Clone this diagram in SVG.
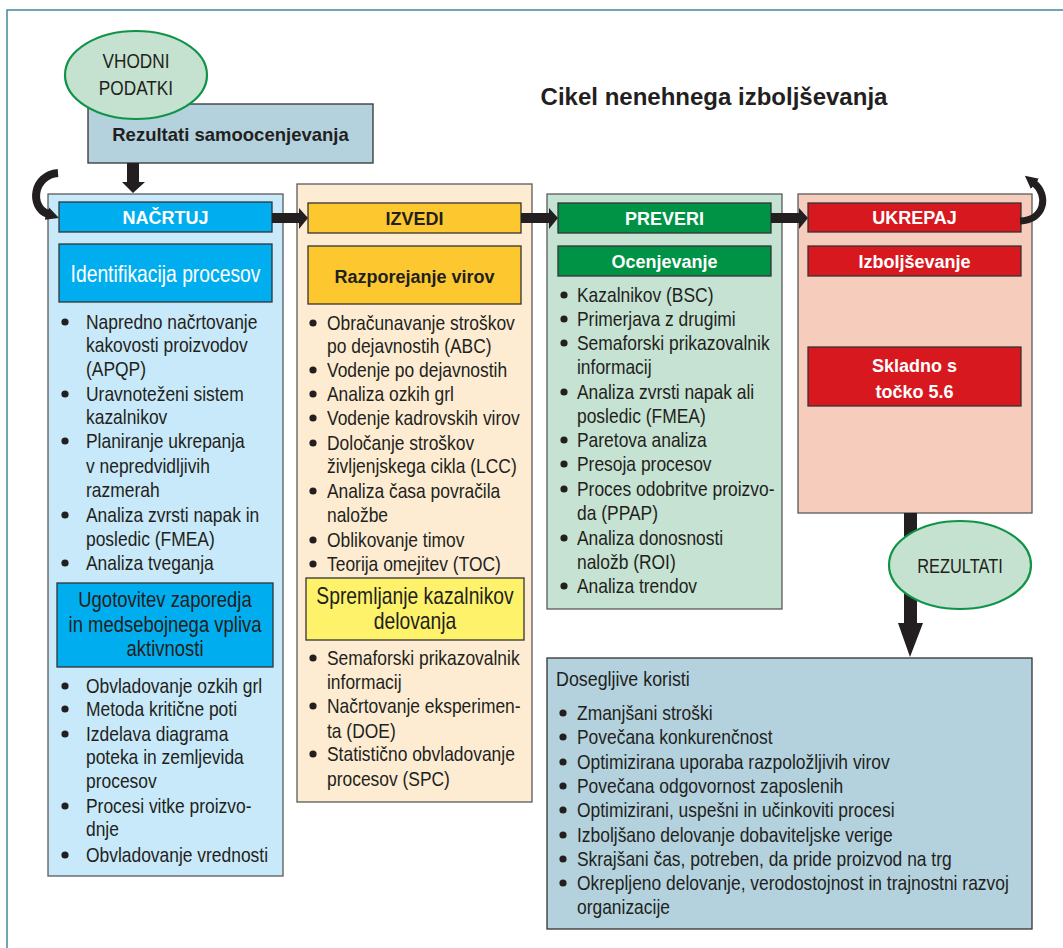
<svg xmlns="http://www.w3.org/2000/svg" width="1063" height="948" viewBox="0 0 1063 948">
<defs>
<style>
.t{font-family:"Liberation Sans",Arial,sans-serif;font-size:20.5px;fill:#231f20}
.b{font-family:"Liberation Sans",Arial,sans-serif;font-weight:bold;font-size:18px;fill:#231f20}
.w{fill:#ffffff}
.c{text-anchor:middle}
.panel{stroke:#5a5a5a;stroke-width:1.3}
.bar{stroke:#333333;stroke-width:1.3}
.dot{fill:#231f20}
.arr{fill:#231f20}
.ell{fill:#c5e2d0;stroke:#0f9447;stroke-width:2.2}
</style>
<marker id="ah" viewBox="0 0 10 10" refX="1" refY="5" markerWidth="13" markerHeight="18" markerUnits="userSpaceOnUse" orient="auto">
<path d="M0,0 L10,5 L0,10 z" fill="#231f20"/>
</marker>
</defs>
<rect width="1063" height="948" fill="#ffffff"/>
<rect x="7" y="10" width="1080" height="960" fill="none" stroke="#3d8a9a" stroke-width="1.5"/>
<text class="b c" x="714" y="105" style="font-size:24px">Cikel nenehnega izboljševanja</text>

<g id="rezultati-samoocenjevanja">
<rect x="88" y="104" width="285" height="59" fill="#b3d2de" class="bar"/>
<text class="b c" x="230.5" y="141" style="font-size:18.5px">Rezultati samoocenjevanja</text>
</g>

<g id="nacrtuj">
<rect x="48" y="194" width="235" height="682" fill="#c8e9f9" class="panel"/>
<rect x="59" y="202" width="213" height="30" fill="#00aeef" class="bar"/>
<text class="b c w" x="165.5" y="224">NAČRTUJ</text>
<rect x="59" y="244" width="213" height="58" fill="#00aeef" class="bar"/>
<g transform="translate(165.5,0) scale(0.84,1)">
<text class="t c w" x="0" y="282" style="font-size:23px">Identifikacija procesov</text>
</g>
<g class="dot">
<circle cx="65" cy="322" r="3.6"/><circle cx="65" cy="394" r="3.6"/><circle cx="65" cy="441" r="3.6"/><circle cx="65" cy="515" r="3.6"/><circle cx="65" cy="563" r="3.6"/>
<circle cx="65" cy="686" r="3.6"/><circle cx="65" cy="709" r="3.6"/><circle cx="65" cy="734" r="3.6"/><circle cx="65" cy="806" r="3.6"/><circle cx="65" cy="855" r="3.6"/>
</g>
<g transform="translate(86,0) scale(0.85,1)">
<text class="t" x="0" y="329">Napredno načrtovanje</text>
<text class="t" x="0" y="352">kakovosti proizvodov</text>
<text class="t" x="0" y="376">(APQP)</text>
<text class="t" x="0" y="401">Uravnoteženi sistem</text>
<text class="t" x="0" y="424">kazalnikov</text>
<text class="t" x="0" y="448">Planiranje ukrepanja</text>
<text class="t" x="0" y="473">v nepredvidljivih</text>
<text class="t" x="0" y="497">razmerah</text>
<text class="t" x="0" y="522">Analiza zvrsti napak in</text>
<text class="t" x="0" y="546">posledic (FMEA)</text>
<text class="t" x="0" y="570">Analiza tveganja</text>
<text class="t" x="0" y="693">Obvladovanje ozkih grl</text>
<text class="t" x="0" y="716">Metoda kritične poti</text>
<text class="t" x="0" y="741">Izdelava diagrama</text>
<text class="t" x="0" y="764">poteka in zemljevida</text>
<text class="t" x="0" y="788">procesov</text>
<text class="t" x="0" y="813">Procesi vitke proizvo-</text>
<text class="t" x="0" y="836">dnje</text>
<text class="t" x="0" y="862">Obvladovanje vrednosti</text>
</g>
<rect x="57" y="583" width="216" height="84" fill="#00aeef" class="bar"/>
<g transform="translate(165,0) scale(0.84,1)">
<text class="t c" x="0" y="607" style="font-size:22px">Ugotovitev zaporedja</text>
<text class="t c" x="0" y="632" style="font-size:22px">in medsebojnega vpliva</text>
<text class="t c" x="0" y="656" style="font-size:22px">aktivnosti</text>
</g>
</g>

<g id="izvedi">
<rect x="297" y="184" width="235" height="618" fill="#fdecd2" class="panel"/>
<rect x="308" y="203" width="213" height="30" fill="#fdc82f" class="bar"/>
<text class="b c" x="414.5" y="225">IZVEDI</text>
<rect x="308" y="246" width="213" height="58" fill="#fdc82f" class="bar"/>
<text class="b c" x="414.5" y="283">Razporejanje virov</text>
<g class="dot">
<circle cx="313" cy="323" r="3.6"/><circle cx="313" cy="370" r="3.6"/><circle cx="313" cy="394" r="3.6"/><circle cx="313" cy="418" r="3.6"/><circle cx="313" cy="443" r="3.6"/><circle cx="313" cy="491" r="3.6"/><circle cx="313" cy="540" r="3.6"/><circle cx="313" cy="564" r="3.6"/>
<circle cx="313" cy="658" r="3.6"/><circle cx="313" cy="706" r="3.6"/><circle cx="313" cy="754" r="3.6"/>
</g>
<g transform="translate(327,0) scale(0.85,1)">
<text class="t" x="0" y="330">Obračunavanje stroškov</text>
<text class="t" x="0" y="353">po dejavnostih (ABC)</text>
<text class="t" x="0" y="377">Vodenje po dejavnostih</text>
<text class="t" x="0" y="401">Analiza ozkih grl</text>
<text class="t" x="0" y="425">Vodenje kadrovskih virov</text>
<text class="t" x="0" y="450">Določanje stroškov</text>
<text class="t" x="0" y="473">življenjskega cikla (LCC)</text>
<text class="t" x="0" y="498">Analiza časa povračila</text>
<text class="t" x="0" y="522">naložbe</text>
<text class="t" x="0" y="547">Oblikovanje timov</text>
<text class="t" x="0" y="571">Teorija omejitev (TOC)</text>
<text class="t" x="0" y="665">Semaforski prikazovalnik</text>
<text class="t" x="0" y="689">informacij</text>
<text class="t" x="0" y="713">Načrtovanje eksperimen-</text>
<text class="t" x="0" y="738">ta (DOE)</text>
<text class="t" x="0" y="761">Statistično obvladovanje</text>
<text class="t" x="0" y="786">procesov (SPC)</text>
</g>
<rect x="306" y="578" width="218" height="62" fill="#fef26b" class="bar"/>
<g transform="translate(415,0) scale(0.84,1)">
<text class="t c" x="0" y="604" style="font-size:23px">Spremljanje kazalnikov</text>
<text class="t c" x="0" y="629" style="font-size:23px">delovanja</text>
</g>
</g>

<g id="preveri">
<rect x="547" y="194" width="235" height="415" fill="#c6e2d2" class="panel"/>
<rect x="558" y="203" width="213" height="30" fill="#009245" class="bar"/>
<text class="b c w" x="664.5" y="225">PREVERI</text>
<rect x="558" y="246" width="213" height="30" fill="#009245" class="bar"/>
<text class="b c w" x="664.5" y="268">Ocenjevanje</text>
<g class="dot">
<circle cx="564" cy="295" r="3.6"/><circle cx="564" cy="319" r="3.6"/><circle cx="564" cy="343" r="3.6"/><circle cx="564" cy="392" r="3.6"/><circle cx="564" cy="440" r="3.6"/><circle cx="564" cy="464" r="3.6"/><circle cx="564" cy="489" r="3.6"/><circle cx="564" cy="538" r="3.6"/><circle cx="564" cy="586" r="3.6"/>
</g>
<g transform="translate(577,0) scale(0.85,1)">
<text class="t" x="0" y="302">Kazalnikov (BSC)</text>
<text class="t" x="0" y="326">Primerjava z drugimi</text>
<text class="t" x="0" y="350">Semaforski prikazovalnik</text>
<text class="t" x="0" y="374">informacij</text>
<text class="t" x="0" y="399">Analiza zvrsti napak ali</text>
<text class="t" x="0" y="423">posledic (FMEA)</text>
<text class="t" x="0" y="447">Paretova analiza</text>
<text class="t" x="0" y="471">Presoja procesov</text>
<text class="t" x="0" y="496">Proces odobritve proizvo-</text>
<text class="t" x="0" y="520">da (PPAP)</text>
<text class="t" x="0" y="545">Analiza donosnosti</text>
<text class="t" x="0" y="569">naložb (ROI)</text>
<text class="t" x="0" y="593">Analiza trendov</text>
</g>
</g>

<g id="ukrepaj">
<rect x="798" y="194" width="234" height="319" fill="#f6cdbc" class="panel"/>
<rect x="808" y="203" width="213" height="29" fill="#d7191f" class="bar"/>
<text class="b c w" x="914.5" y="224">UKREPAJ</text>
<rect x="808" y="246" width="213" height="30" fill="#d7191f" class="bar"/>
<text class="b c w" x="914.5" y="268">Izboljševanje</text>
<rect x="808" y="347" width="213" height="59" fill="#d7191f" class="bar"/>
<text class="b c w" x="914.5" y="372">Skladno s</text>
<text class="b c w" x="914.5" y="398">točko 5.6</text>
</g>

<g id="dosegljive-koristi">
<rect x="547" y="658" width="485" height="271" fill="#b3d2de" class="bar"/>
<g class="dot">
<circle cx="563" cy="713" r="3.6"/><circle cx="563" cy="737" r="3.6"/><circle cx="563" cy="762" r="3.6"/><circle cx="563" cy="786" r="3.6"/><circle cx="563" cy="810" r="3.6"/><circle cx="563" cy="835" r="3.6"/><circle cx="563" cy="859" r="3.6"/><circle cx="563" cy="883" r="3.6"/>
</g>
<g transform="translate(556,0) scale(0.85,1)">
<text class="t" x="0" y="686" style="font-size:21px">Dosegljive koristi</text>
</g>
<g transform="translate(577,0) scale(0.85,1)">
<text class="t" x="0" y="720">Zmanjšani stroški</text>
<text class="t" x="0" y="744">Povečana konkurenčnost</text>
<text class="t" x="0" y="769">Optimizirana uporaba razpoložljivih virov</text>
<text class="t" x="0" y="793">Povečana odgovornost zaposlenih</text>
<text class="t" x="0" y="817">Optimizirani, uspešni in učinkoviti procesi</text>
<text class="t" x="0" y="842">Izboljšano delovanje dobaviteljske verige</text>
<text class="t" x="0" y="866">Skrajšani čas, potreben, da pride proizvod na trg</text>
<text class="t" x="0" y="890">Okrepljeno delovanje, verodostojnost in trajnostni razvoj</text>
<text class="t" x="0" y="914">organizacije</text>
</g>
</g>

<g id="connectors">
<polygon class="arr" points="127,163 139,163 139,182 145,182 133,193 122,182 127,182"/>
<polygon class="arr" points="272,213 299,213 299,208 308,218 299,229 299,223 272,223"/>
<polygon class="arr" points="521,213 549,213 549,208 558,218 549,229 549,223 521,223"/>
<polygon class="arr" points="771,213 799,213 799,208 808,218 799,229 799,223 771,223"/>
<polygon class="arr" points="904,513 917,513 917,623 923,623 910,657 898,623 904,623"/>
<path d="M58,173 C33,175 29,207 48,214" fill="none" stroke="#231f20" stroke-width="8" marker-end="url(#ah)"/>
<path d="M1020,221 C1045,220 1049,195 1034,183" fill="none" stroke="#231f20" stroke-width="7" marker-end="url(#ah)"/>
</g>

<g id="vhodni-podatki">
<ellipse class="ell" cx="136" cy="75" rx="71" ry="44"/>
<g transform="translate(136,0) scale(0.82,1)">
<text class="t c" x="0" y="68" style="font-size:21px">VHODNI</text>
<text class="t c" x="0" y="95" style="font-size:21px">PODATKI</text>
</g>
</g>

<g id="rezultati">
<ellipse class="ell" cx="960" cy="565" rx="71" ry="44"/>
<g transform="translate(960,0) scale(0.82,1)">
<text class="t c" x="0" y="573" style="font-size:20px">REZULTATI</text>
</g>
</g>
</svg>
